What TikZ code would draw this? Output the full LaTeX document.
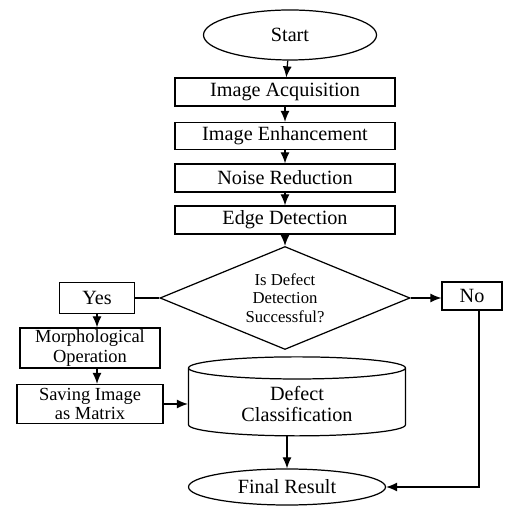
\documentclass[tikz,border=0pt]{standalone}
\usepackage{fontspec}
\setmainfont{Liberation Serif}
\usetikzlibrary{shapes,arrows,positioning,calc,arrows.meta}

\begin{document}
\begin{tikzpicture}[
    box/.style={draw, line width=0.7pt, rectangle, align=center, inner sep=1pt, font=\fontsize{11.5}{12}\selectfont},
    term/.style={draw, line width=0.7pt, ellipse, inner sep=1pt, font=\fontsize{11.5}{12}\selectfont},
    arr/.style={line width=0.7pt, -{Latex[length=2.2mm,width=1.8mm]}}
]
    \useasboundingbox (0,0) rectangle (10.1,10.14);

    % Start
    \node[term, minimum width=3.46cm, minimum height=1.0cm] (start) at (5.8,9.44) {Start};

    % Processing steps
    \node[box, minimum width=4.4cm, minimum height=0.56cm] (acq) at (5.7,8.3) {Image Acquisition};
    \node[box, minimum width=4.4cm, minimum height=0.54cm] (enh) at (5.7,7.42) {Image Enhancement};
    \node[box, minimum width=4.4cm, minimum height=0.56cm] (noise) at (5.7,6.58) {Noise Reduction};
    \node[box, minimum width=4.4cm, minimum height=0.56cm] (edge) at (5.7,5.74) {Edge Detection};

    % Decision
    \node[draw, line width=0.7pt, diamond, aspect=2.4, minimum width=5.0cm, minimum height=2.06cm, inner sep=0pt, align=center, font=\fontsize{9.5}{10.5}\selectfont] (dec) at (5.7,4.18) {Is Defect\\Detection\\Successful?};

    % Branches
    \node[box, minimum width=1.5cm, minimum height=0.62cm] (yes) at (1.94,4.18) {Yes};
    \node[box, minimum width=1.2cm, minimum height=0.56cm] (no) at (9.44,4.22) {No};
    \node[box, minimum width=2.8cm, minimum height=0.8cm, font=\fontsize{10.5}{11}\selectfont] (morph) at (1.8,3.18) {Morphological\\Operation};
    \node[box, minimum width=2.92cm, minimum height=0.78cm, font=\fontsize{10.5}{11}\selectfont] (save) at (1.8,2.06) {Saving Image\\as Matrix};

    % Classification
    \node[draw, line width=0.7pt, cylinder, shape border rotate=90, aspect=0.18, minimum width=4.34cm, minimum height=1.58cm, align=center, font=\fontsize{11.5}{12.5}\selectfont] (cls) at (5.94,2.06) {Defect\\Classification};

    % Final Result
    \node[term, minimum width=3.94cm, minimum height=0.72cm] (final) at (5.74,0.4) {Final Result};

    % Connectors
    \draw[arr] (start) -- (acq);
    \draw[arr] (acq) -- (enh);
    \draw[arr] (enh) -- (noise);
    \draw[arr] (noise) -- (edge);
    \draw[arr] (edge) -- (dec);
    \draw[line width=0.7pt] (dec.west) -- (yes.east);
    \draw[arr] (dec.east) -- (dec.east -| no.west);
    \draw[arr] (yes.south) -- (yes.south |- morph.north);
    \draw[arr] (morph.south -| yes.south) -- (yes.south |- save.north);
    \draw[arr] (save.east) -- (save.east -| cls.west);
    \draw[arr] (final.north |- cls.south) -- (final.north);
    \coordinate (nocorner) at ($(no.south)+(0.14,0)$);
    \draw[arr] (nocorner) |- (final.east);
\end{tikzpicture}
\end{document}
